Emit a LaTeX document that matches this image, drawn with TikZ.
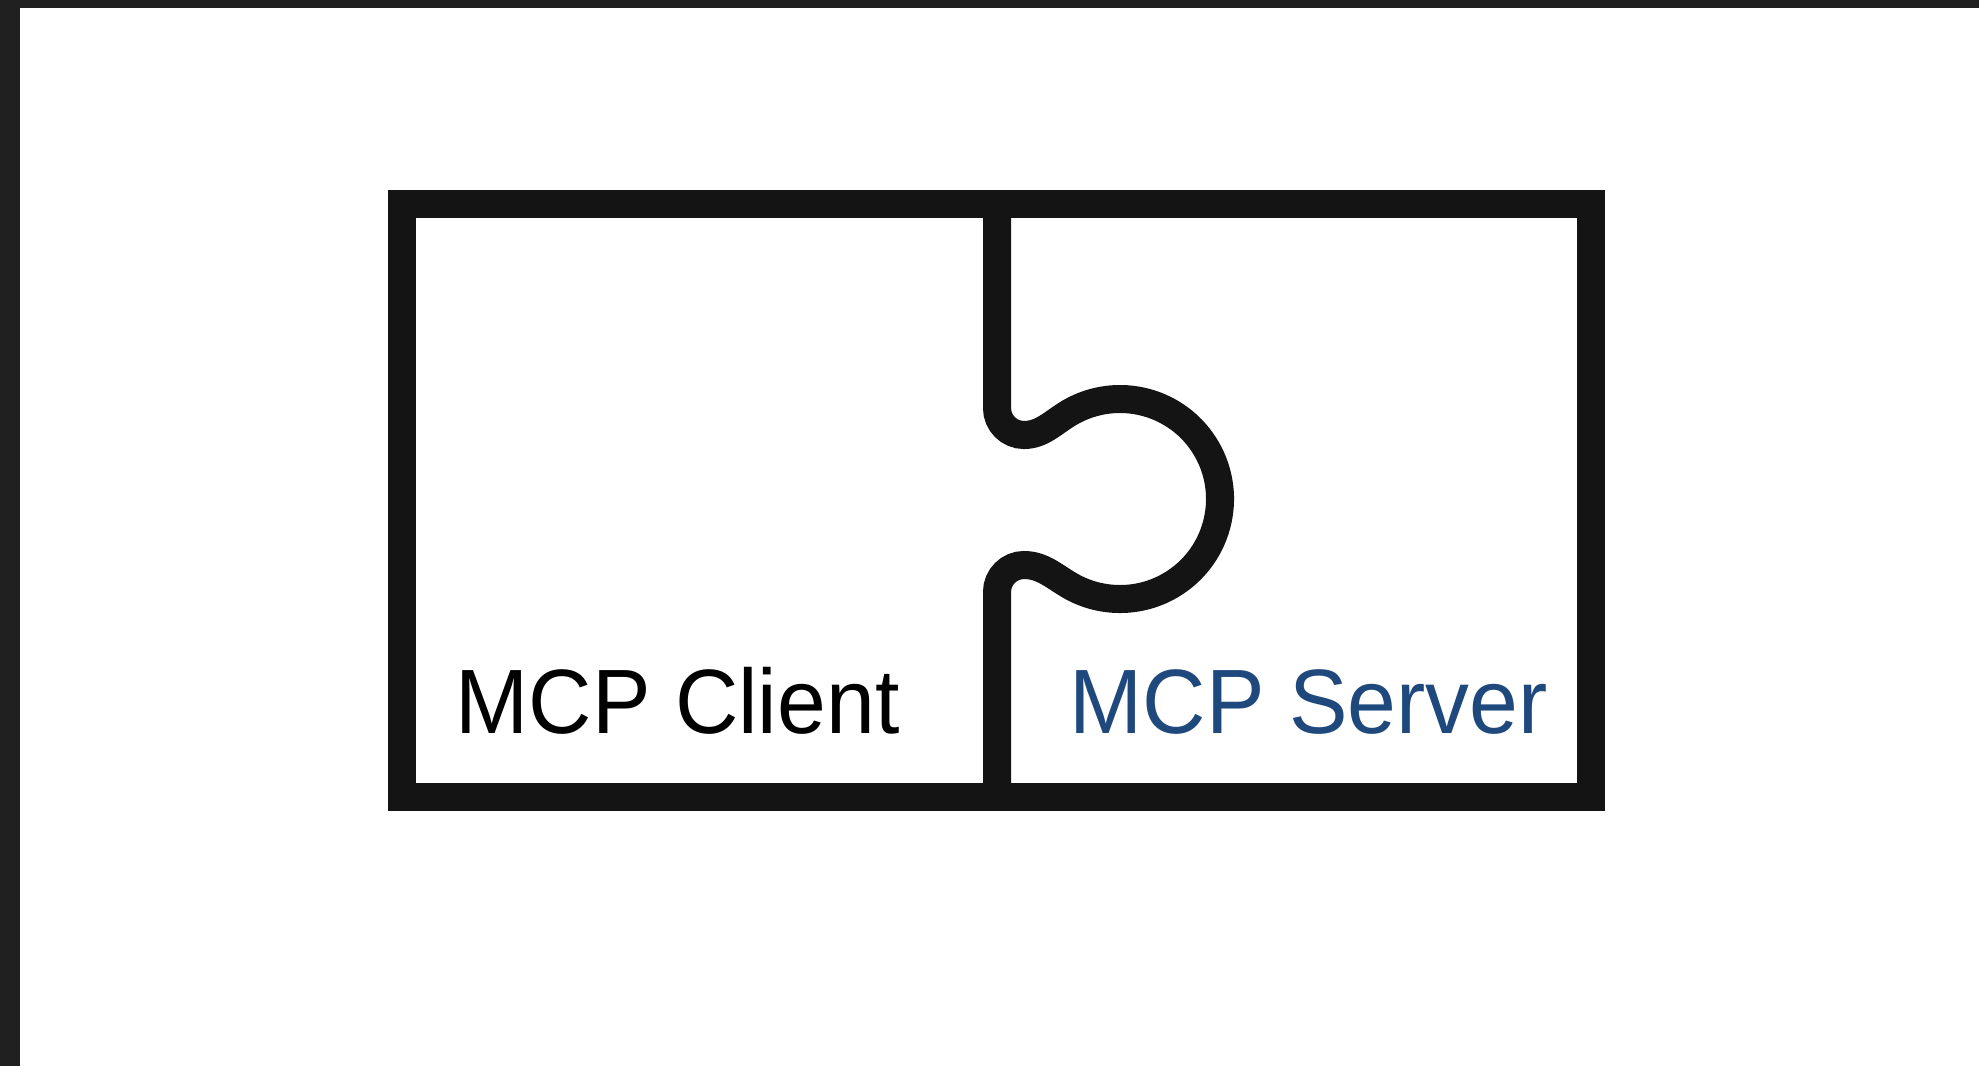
\documentclass[tikz,border=0pt]{standalone}
\usepackage{fontspec}
\setmainfont[FakeStretch=0.96]{Liberation Sans}
\definecolor{frameedge}{HTML}{202020}
\definecolor{serverblue}{HTML}{1F497D}
\begin{document}
\begin{tikzpicture}[x=0.01cm,y=0.01cm,
    piece/.style={draw=black!92, line width=0.28cm, line join=miter},
    label/.style={inner sep=0pt, anchor=base west, font=\fontsize{26pt}{30pt}\selectfont}]
  % canvas with the dark window edge on top and left
  \useasboundingbox (0,0) rectangle (1979,-1066);
  \fill[white] (0,0) rectangle (1979,-1066);
  \fill[frameedge] (0,0) rectangle (1979,-8);
  \fill[frameedge] (0,0) rectangle (20,-1066);

  % outer frame of the two pieces
  \coordinate (tl) at (402,-204);
  \coordinate (br) at (1591,-797);
  \draw[piece] (tl) rectangle (br);

  % joint between the pieces, with the knob reaching into the right piece
  \coordinate (jtop) at (997,-204);
  \coordinate (jbot) at (997,-797);
  \draw[piece] (jtop) -- (997,-408)
    arc[start angle=180, end angle=270, radius=27]
    .. controls (1042,-435) and (1053,-422.4) .. (1070,-412.4)
    arc[start angle=120, end angle=-120, radius=100]
    .. controls (1053,-575.6) and (1042,-565) .. (1024,-565)
    arc[start angle=90, end angle=180, radius=27]
    -- (jbot);

  % labels
  \node[label, text=black] (client) at (455,-733) {MCP Client};
  \node[label, text=serverblue] (server) at (1069,-733) {MCP Server};
\end{tikzpicture}
\end{document}
